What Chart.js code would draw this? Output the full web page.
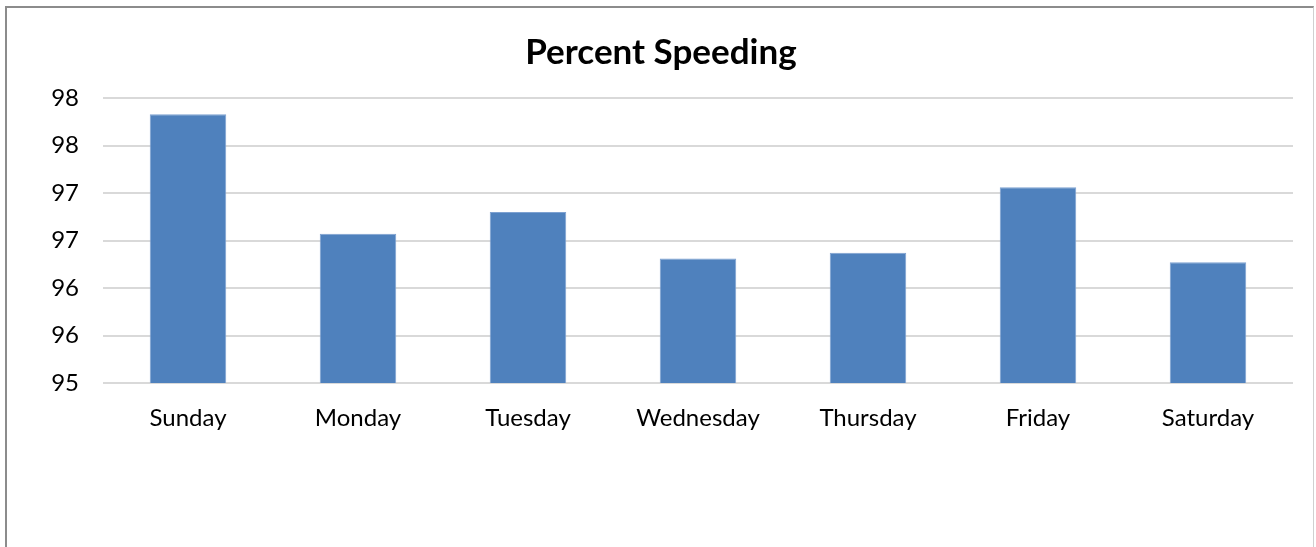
<!DOCTYPE html>
<html>
<head>
<meta charset="utf-8">
<script src="https://cdn.jsdelivr.net/npm/chart.js@4"></script>
<style>
  html, body { margin: 0; padding: 0; background: #fff; overflow: hidden; }
  #wrap { position: absolute; left: 0; top: 0; width: 1316px; height: 547px; }
  #frame {
    position: absolute; left: 5px; top: 6px; width: 1306px; height: 600px;
    border-top: 2px solid #8c8c8c; border-left: 2px solid #8c8c8c; border-right: 1px solid #d0d0d0;
  }
  canvas { position: absolute; left: 0; top: 0; }
</style>
</head>
<body>
<div id="wrap">
  <div id="frame"></div>
  <canvas id="myChart" width="1316" height="547"></canvas>
</div>
<script>
const days = ["Sunday", "Monday", "Tuesday", "Wednesday", "Thursday", "Friday", "Saturday"];
const speeding = [97.83, 96.57, 96.80, 96.31, 96.37, 97.06, 96.27];
const yMin = 95;
const yMax = 98;
const yStep = 0.5;

const ctx = document.getElementById("myChart").getContext("2d");

const myChart = new Chart(ctx, {
  type: "bar",
  data: {
    labels: days,
    datasets: [
      {
        label: "Percent Speeding",
        data: speeding,
        backgroundColor: "#4f81bd",
        borderColor: "#7da1d1",
        borderWidth: 1,
        barPercentage: 0.45,
        categoryPercentage: 1,
      },
    ],
  },
  options: {
    responsive: false,
    animation: false,
    // left/right padding chosen so the title sits where it does in the original
    layout: { padding: { left: 29, right: 23, top: 0, bottom: 0 } },
    scales: {
      x: {
        grid: { display: false },
        border: { display: false },
        ticks: { color: "#000", padding: 13, font: { family: "Lato", size: 24 } },
        afterFit: (scale) => { scale.height = 164; },
      },
      y: {
        min: yMin,
        max: yMax,
        ticks: {
          stepSize: yStep,
          color: "#000",
          padding: 24,
          font: { family: "Lato", size: 24 },
          callback: (v) => Math.round(v),
        },
        grid: { color: "#d9d9d9", lineWidth: 2, drawTicks: false },
        border: { display: false },
        afterFit: (scale) => { scale.width = 74; },
      },
    },
    plugins: {
      legend: { display: false },
      tooltip: { enabled: false },
      title: {
        display: true,
        text: "Percent Speeding",
        color: "#000",
        font: { family: "Lato", size: 35, weight: "bold", lineHeight: 1.2 },
        padding: { top: 32, bottom: 24 },
      },
    },
  },
});
</script>
</body>
</html>
